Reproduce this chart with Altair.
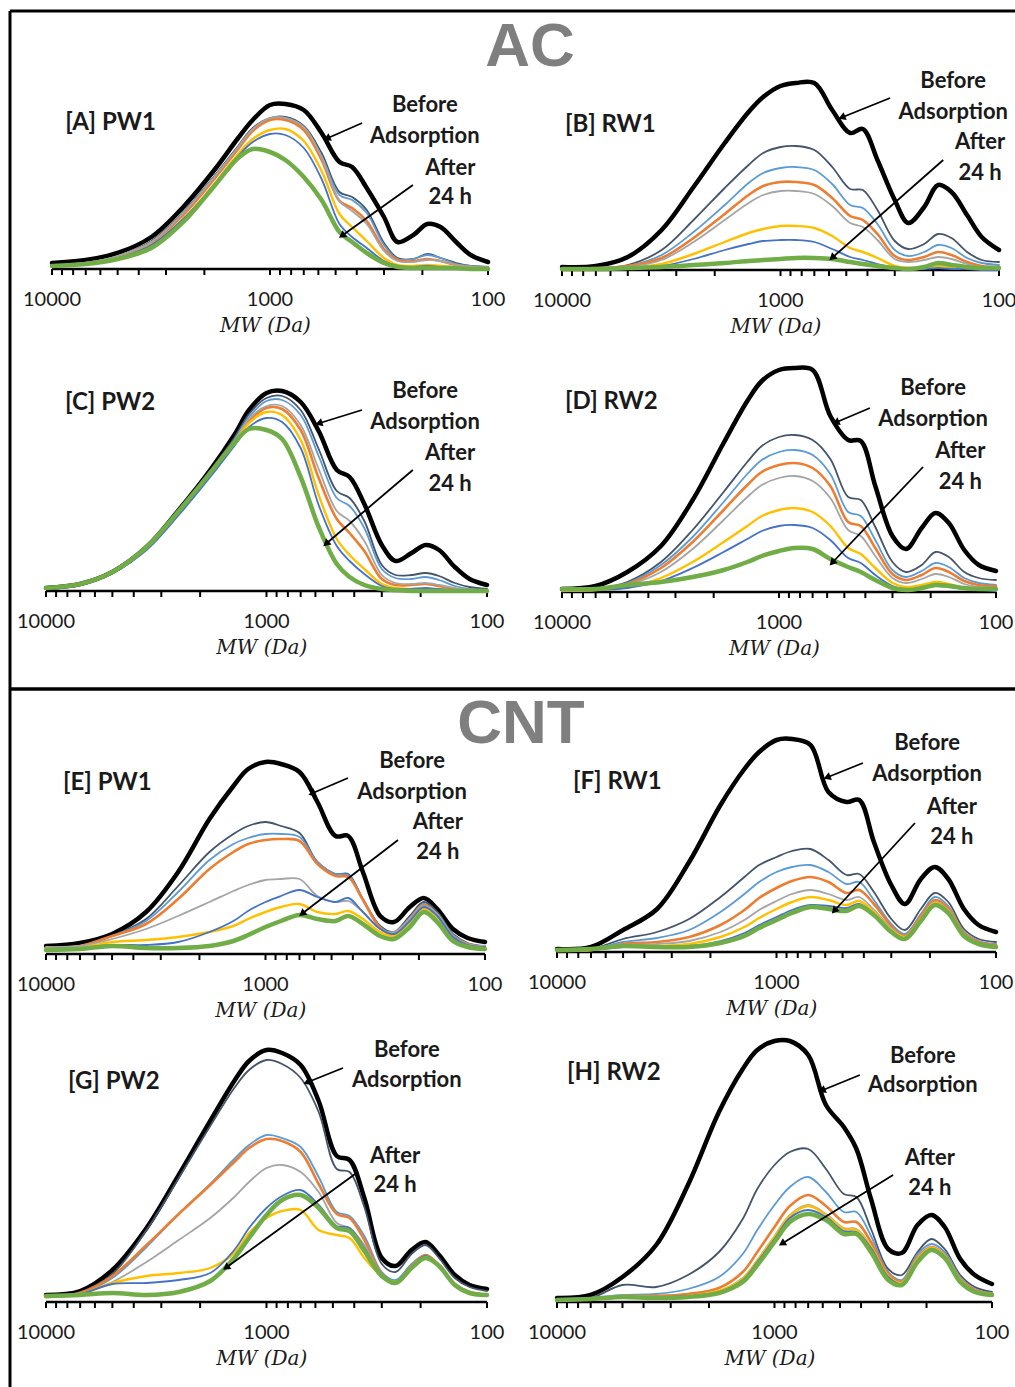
import math
import altair as alt
import pandas as pd

# ---------------- data ----------------
MW = [10000, 7000, 5000, 3500, 2500, 1800, 1400, 1200, 1000, 850, 700, 580,
      480, 420, 360, 300, 260, 220, 190, 165, 140, 120, 100]

SERIES = ["Before adsorption", "t1", "t2", "t3", "t4", "t5", "t6", "After 24 h"]
COLORS = ["#000000", "#44546A", "#5B9BD5", "#ED7D31", "#A5A5A5", "#FFC000", "#4472C4", "#70AD47"]
WIDTHS = [4.5, 1.8, 1.8, 2.6, 1.8, 2.4, 1.8, 4.5]

# [A] AC - PW1
A_before = [6, 9, 16, 32, 62, 99, 131, 149, 164, 165, 159, 136, 107, 102, 81, 52, 27, 34, 45, 42, 27, 14, 7]
A_t1 = [3, 6, 13, 28, 57, 93, 123, 141, 151, 152, 143, 116, 77, 72, 59, 26, 11, 10, 15, 11, 6, 3, 2]
A_t2 = [3, 6, 13, 27, 56, 92, 121, 139, 150, 150, 141, 113, 74, 69, 56, 24, 10, 10, 14, 11, 5, 3, 2]
A_t3 = [3, 6, 12, 26, 54, 90, 120, 138, 149, 149, 139, 109, 68, 61, 48, 20, 9, 8, 10, 8, 4, 2, 1]
A_t4 = [3, 6, 13, 27, 56, 92, 122, 140, 151, 151, 142, 112, 68, 58, 45, 18, 8, 7, 9, 8, 4, 2, 1]
A_t5 = [3, 5, 11, 24, 50, 85, 115, 130, 139, 140, 128, 98, 55, 42, 28, 11, 4, 3, 4, 3, 2, 1, 1]
A_t6 = [3, 5, 11, 24, 50, 84, 113, 127, 135, 134, 121, 90, 45, 32, 21, 8, 3, 2, 3, 2, 1, 1, 0]
A_t24 = [3, 5, 10, 21, 47, 83, 111, 120, 117, 109, 92, 69, 37, 27, 16, 6, 2, 1, 1, 1, 1, 0, 0]

# [B] AC - RW1
B_before = [3, 4, 13, 40, 83, 127, 158, 173, 184, 187, 187, 160, 137, 141, 110, 70, 47, 63, 85, 78, 55, 33, 20]
B_t1 = [2, 2, 5, 20, 50, 82, 105, 117, 123, 124, 120, 103, 81, 80, 60, 29, 21, 26, 36, 32, 18, 10, 8]
B_t2 = [1, 2, 4, 15, 38, 65, 87, 97, 102, 103, 100, 86, 65, 62, 46, 20, 14, 18, 25, 22, 12, 7, 5]
B_t3 = [1, 2, 4, 12, 32, 56, 75, 84, 88, 88, 85, 72, 54, 50, 36, 14, 10, 13, 18, 15, 8, 4, 3]
B_t4 = [1, 2, 3, 10, 28, 50, 67, 75, 79, 79, 76, 64, 47, 43, 30, 11, 8, 10, 13, 11, 6, 3, 2]
B_t5 = [0, 1, 2, 6, 16, 28, 37, 41, 44, 44, 42, 34, 22, 18, 12, 4, 2, 3, 4, 3, 2, 1, 1]
B_t6 = [0, 0, 1, 4, 11, 20, 26, 29, 30, 30, 28, 21, 13, 10, 6, 2, 1, 1, 2, 1, 1, 0, 0]
B_t24 = [1, 1, 2, 3, 5, 7, 9, 10, 11, 12, 12, 11, 8, 6, 4, 2, 1, 3, 7, 5, 3, 2, 2]

# [C] AC - PW2
C_before = [3, 7, 19, 44, 81, 121, 156, 181, 198, 200, 189, 160, 121, 114, 87, 46, 30, 38, 46, 41, 24, 12, 6]
C_t1 = [3, 7, 19, 44, 80, 120, 153, 177, 193, 195, 181, 142, 100, 93, 70, 26, 16, 16, 18, 15, 8, 4, 2]
C_t2 = [3, 7, 19, 44, 80, 119, 151, 174, 190, 191, 176, 135, 93, 85, 63, 22, 13, 12, 14, 11, 5, 2, 1]
C_t3 = [3, 7, 19, 43, 79, 118, 149, 170, 183, 182, 161, 113, 72, 58, 40, 12, 6, 6, 7, 5, 2, 1, 0]
C_t4 = [3, 7, 19, 43, 79, 118, 150, 172, 185, 185, 166, 122, 80, 70, 50, 16, 8, 7, 8, 6, 3, 1, 1]
C_t5 = [3, 7, 19, 43, 78, 117, 148, 168, 179, 176, 151, 96, 52, 36, 22, 7, 3, 2, 2, 1, 0, 0, 0]
C_t6 = [3, 6, 18, 41, 76, 114, 145, 164, 173, 169, 143, 86, 45, 30, 17, 5, 2, 2, 3, 2, 1, 0, 0]
C_t24 = [3, 7, 19, 44, 80, 118, 148, 162, 161, 152, 114, 64, 27, 14, 6, 2, 1, 0, 0, 0, 0, 0, 0]

# [D] AC - RW2
D_before = [3, 6, 20, 46, 92, 149, 191, 211, 222, 224, 222, 176, 152, 151, 106, 56, 43, 64, 79, 69, 42, 27, 21]
D_t1 = [2, 3, 10, 30, 62, 100, 130, 146, 155, 157, 152, 133, 95, 92, 65, 30, 20, 27, 40, 35, 20, 14, 12]
D_t2 = [2, 3, 9, 27, 55, 90, 118, 132, 140, 142, 137, 118, 80, 76, 52, 22, 15, 21, 29, 25, 14, 9, 7]
D_t3 = [1, 3, 8, 24, 50, 82, 107, 120, 127, 129, 124, 106, 70, 66, 44, 18, 12, 17, 24, 20, 11, 7, 6]
D_t4 = [1, 2, 7, 20, 43, 72, 95, 107, 114, 116, 111, 94, 62, 56, 36, 14, 9, 13, 18, 15, 8, 5, 4]
D_t5 = [2, 2, 5, 14, 30, 50, 66, 76, 82, 84, 80, 66, 44, 38, 24, 9, 5, 7, 10, 8, 4, 3, 2]
D_t6 = [2, 2, 4, 11, 24, 40, 53, 61, 66, 67, 64, 52, 34, 29, 17, 6, 3, 4, 6, 5, 3, 2, 1]
D_t24 = [3, 3, 7, 10, 15, 22, 30, 36, 41, 44, 43, 33, 25, 20, 12, 4, 2, 4, 7, 6, 4, 3, 3]

# [E] CNT - PW1
E_before = [8, 11, 20, 42, 82, 135, 168, 185, 192, 190, 182, 152, 118, 118, 82, 38, 32, 47, 56, 45, 25, 16, 12]
E_t1 = [6, 8, 18, 35, 68, 102, 120, 128, 132, 128, 121, 92, 80, 80, 55, 28, 22, 38, 52, 42, 20, 11, 8]
E_t2 = [6, 8, 18, 33, 62, 94, 110, 116, 120, 120, 117, 92, 80, 79, 55, 27, 21, 36, 50, 40, 19, 10, 7]
E_t3 = [6, 8, 18, 30, 55, 85, 102, 110, 114, 115, 113, 90, 78, 77, 54, 26, 20, 35, 49, 39, 18, 10, 7]
E_t4 = [7, 8, 15, 25, 38, 52, 63, 69, 74, 75, 75, 58, 52, 53, 42, 25, 22, 35, 48, 40, 18, 10, 8]
E_t5 = [5, 6, 12, 14, 17, 22, 28, 35, 42, 47, 50, 42, 40, 43, 35, 22, 18, 32, 45, 35, 15, 8, 6]
E_t6 = [5, 6, 9, 9, 12, 22, 33, 43, 52, 58, 64, 57, 52, 56, 42, 25, 20, 33, 47, 38, 17, 9, 7]
E_t24 = [4, 5, 8, 6, 6, 8, 13, 19, 27, 33, 39, 35, 33, 38, 30, 18, 15, 27, 42, 32, 13, 7, 5]

# [F] CNT - RW1
F_before = [3, 5, 22, 43, 90, 147, 183, 200, 212, 213, 207, 160, 150, 152, 110, 67, 48, 73, 85, 73, 43, 27, 20]
F_t1 = [2, 3, 13, 20, 33, 55, 75, 87, 95, 101, 103, 92, 77, 78, 60, 33, 22, 43, 59, 50, 23, 13, 10]
F_t2 = [2, 3, 10, 14, 22, 40, 58, 70, 80, 85, 87, 80, 68, 70, 52, 28, 18, 38, 55, 46, 20, 11, 8]
F_t3 = [2, 2, 8, 10, 15, 27, 42, 54, 64, 71, 75, 70, 59, 62, 48, 26, 16, 36, 52, 44, 19, 10, 7]
F_t4 = [1, 2, 7, 8, 11, 20, 32, 42, 51, 58, 62, 58, 52, 55, 42, 24, 15, 34, 50, 42, 18, 9, 6]
F_t5 = [1, 2, 6, 6, 8, 15, 25, 34, 43, 50, 55, 52, 47, 51, 40, 22, 15, 33, 49, 41, 17, 8, 5]
F_t6 = [1, 2, 5, 5, 6, 11, 19, 27, 35, 42, 47, 46, 44, 48, 38, 21, 14, 32, 48, 40, 17, 8, 5]
F_t24 = [2, 3, 6, 5, 5, 9, 16, 24, 32, 39, 45, 43, 41, 46, 37, 20, 13, 31, 47, 39, 16, 8, 5]

# [G] CNT - PW2
G_before = [7, 11, 32, 74, 127, 181, 221, 241, 252, 249, 237, 201, 146, 142, 104, 44, 36, 52, 60, 47, 27, 17, 13]
G_t1 = [6, 10, 28, 72, 124, 176, 214, 232, 242, 238, 224, 190, 133, 130, 95, 38, 30, 48, 57, 44, 24, 15, 11]
G_t2 = [5, 9, 24, 55, 88, 118, 143, 157, 167, 164, 155, 125, 90, 86, 66, 30, 22, 38, 47, 37, 18, 10, 7]
G_t3 = [5, 9, 26, 57, 88, 117, 140, 154, 163, 161, 150, 118, 88, 84, 62, 28, 20, 36, 47, 37, 18, 10, 7]
G_t4 = [5, 8, 20, 40, 62, 84, 105, 120, 134, 137, 130, 110, 79, 74, 57, 27, 20, 35, 46, 36, 18, 10, 7]
G_t5 = [5, 8, 19, 26, 29, 34, 49, 69, 84, 91, 92, 72, 67, 64, 44, 26, 20, 33, 44, 36, 17, 10, 7]
G_t6 = [5, 8, 18, 19, 22, 29, 52, 74, 94, 106, 112, 97, 76, 74, 54, 27, 20, 35, 46, 36, 18, 10, 7]
G_t24 = [6, 7, 9, 7, 10, 21, 44, 64, 87, 102, 107, 94, 74, 71, 51, 26, 19, 34, 44, 36, 17, 9, 7]

# [H] CNT - RW2
H_before = [4, 7, 25, 57, 117, 190, 233, 252, 261, 261, 247, 197, 175, 153, 103, 53, 49, 77, 87, 75, 43, 27, 18]
H_t1 = [3, 4, 17, 15, 27, 50, 83, 113, 137, 150, 153, 133, 108, 105, 73, 33, 27, 50, 63, 53, 27, 15, 10]
H_t2 = [3, 4, 7, 8, 13, 25, 48, 72, 97, 115, 125, 110, 90, 90, 66, 30, 22, 48, 58, 50, 25, 13, 9]
H_t3 = [2, 3, 6, 6, 8, 14, 30, 50, 75, 96, 107, 96, 80, 80, 60, 28, 20, 45, 55, 47, 23, 12, 8]
H_t4 = [2, 3, 6, 5, 6, 11, 24, 42, 66, 87, 97, 88, 74, 73, 56, 26, 19, 44, 54, 46, 22, 11, 8]
H_t5 = [2, 3, 6, 5, 6, 11, 23, 41, 65, 86, 96, 87, 73, 72, 55, 26, 19, 43, 54, 46, 22, 11, 8]
H_t6 = [2, 3, 5, 5, 6, 10, 22, 40, 63, 84, 92, 85, 71, 70, 54, 25, 18, 42, 53, 45, 21, 11, 7]
H_t24 = [2, 3, 5, 4, 5, 9, 20, 37, 60, 80, 88, 82, 68, 68, 50, 22, 17, 40, 52, 44, 20, 10, 7]

DATA = {
    "A": [A_before, A_t1, A_t2, A_t3, A_t4, A_t5, A_t6, A_t24],
    "B": [B_before, B_t1, B_t2, B_t3, B_t4, B_t5, B_t6, B_t24],
    "C": [C_before, C_t1, C_t2, C_t3, C_t4, C_t5, C_t6, C_t24],
    "D": [D_before, D_t1, D_t2, D_t3, D_t4, D_t5, D_t6, D_t24],
    "E": [E_before, E_t1, E_t2, E_t3, E_t4, E_t5, E_t6, E_t24],
    "F": [F_before, F_t1, F_t2, F_t3, F_t4, F_t5, F_t6, F_t24],
    "G": [G_before, G_t1, G_t2, G_t3, G_t4, G_t5, G_t6, G_t24],
    "H": [H_before, H_t1, H_t2, H_t3, H_t4, H_t5, H_t6, H_t24],
}

PANEL_LABELS = {"A": "[A] PW1", "B": "[B] RW1", "C": "[C] PW2", "D": "[D] RW2",
                "E": "[E] PW1", "F": "[F] RW1", "G": "[G] PW2", "H": "[H] RW2"}

MAJOR_TICKS = [10000, 1000, 100]
TICK_LABELS = ["10000", "1000", "100"]
MINOR_TICKS = [9000, 8000, 7000, 6000, 5000, 4000, 3000, 2000,
               900, 800, 700, 600, 500, 400, 300, 200]

# annotation anchors in data units (MW, signal)
ANNOT = {
    "A": dict(label=(8700, 146), before=(195, 164, 133), after=(149, 101, 72),
              arrow_b=(378, 146, 542, 131), arrow_a=(221, 84, 463, 34)),
    "B": dict(label=(9690, 145), before=(162, 189, 158), after=(122, 128, 97),
              arrow_b=(315, 172, 518, 153), arrow_a=(180, 110, 575, 13)),
    "C": dict(label=(8200, 188), before=(191, 200, 169), after=(147, 138, 107),
              arrow_b=(369, 181, 572, 168), arrow_a=(217, 121, 532, 48)),
    "D": dict(label=(9687, 190), before=(195, 204, 173), after=(146, 141, 110),
              arrow_b=(381, 184, 541, 170), arrow_a=(217, 125, 564, 30)),
    "E": dict(label=(8368, 171), before=(215, 193, 162), after=(164, 132, 102),
              arrow_b=(421, 176, 608, 161), arrow_a=(249, 114, 675, 41)),
    "F": dict(label=(8455, 170), before=(206, 209, 178), after=(159, 145, 115),
              arrow_b=(404, 189, 582, 175), arrow_a=(234, 129, 541, 42)),
    "G": dict(label=(7947, 220), before=(231, 252, 222), after=(261, 146, 117),
              arrow_b=(450, 234, 648, 220), arrow_a=(385, 130, 1510, 35)),
    "H": dict(label=(8995, 229), before=(208, 246, 217), after=(193, 144, 114),
              arrow_b=(405, 227, 598, 212), arrow_a=(285, 127, 914, 59)),
}

# panel placement: x pixel of 10000, x pixel of 100, baseline pixel
GEOM = {
    "A": (52, 488, 269), "B": (562, 999, 270),
    "C": (46, 487, 591), "D": (562, 996, 592),
    "E": (46, 485, 954), "F": (557, 996, 952),
    "G": (46, 487, 1302), "H": (557, 992, 1302),
}

FONT = "Lato"


def px(key, mw, s):
    x0, x1, base = GEOM[key]
    return x0 + (x1 - x0) * math.log10(10000 / mw) / 2, base - s


def make_panel(key):
    x0, x1, base = GEOM[key]
    xs = alt.Scale(type="log", domain=[10000, 100], range=[x0, x1], nice=False)
    ys = alt.Scale(type="linear", domain=[0, 300], range=[base, base - 300], nice=False, zero=False)

    def X(f):
        return alt.X(f, type="quantitative", scale=xs, axis=None)

    def Y(f):
        return alt.Y(f, type="quantitative", scale=ys, axis=None)

    layers = []
    # axis line and ticks
    layers.append(alt.Chart(pd.DataFrame({"mw": [10000], "mw2": [100], "s": [0]}))
                  .mark_rule(color="black", strokeWidth=2.5)
                  .encode(x=X("mw"), x2="mw2", y=Y("s")))
    ticks = pd.DataFrame({"mw": MAJOR_TICKS + MINOR_TICKS, "s": 0, "s2": -6})
    layers.append(alt.Chart(ticks).mark_rule(color="black", strokeWidth=2)
                  .encode(x=X("mw"), y=Y("s"), y2="s2"))
    labels = pd.DataFrame({"mw": MAJOR_TICKS, "t": TICK_LABELS, "s": -31})
    layers.append(alt.Chart(labels).mark_text(font=FONT, fontSize=20, color="#1a1a1a",
                                              align="center", baseline="middle")
                  .encode(x=X("mw"), y=Y("s"), text="t:N"))
    layers.append(alt.Chart(pd.DataFrame({"mw": [1050], "s": [-57], "t": ["MW (Da)"]}))
                  .mark_text(font="DejaVu Serif", fontStyle="italic", fontSize=20, color="#1a1a1a",
                             align="center", baseline="middle")
                  .encode(x=X("mw"), y=Y("s"), text="t:N"))

    # curves
    for name, color, w, vals in zip(SERIES, COLORS, WIDTHS, DATA[key]):
        df = pd.DataFrame({"mw": MW, "signal": vals, "series": name})
        layers.append(alt.Chart(df).mark_line(interpolate="catmull-rom", color=color,
                                              strokeWidth=w, strokeJoin="round", strokeCap="round")
                      .encode(x=X("mw"), y=Y("signal")))

    a = ANNOT[key]
    # panel label
    lm, ls = a["label"]
    layers.append(alt.Chart(pd.DataFrame({"mw": [lm], "s": [ls], "t": [PANEL_LABELS[key]]}))
                  .mark_text(font=FONT, fontWeight="bold", fontSize=24, align="left",
                             baseline="middle", color="#1a1a1a")
                  .encode(x=X("mw"), y=Y("s"), text="t:N"))
    bm, b1, b2 = a["before"]
    am, a1, a2 = a["after"]
    txt = pd.DataFrame({"mw": [bm, bm, am, am], "s": [b1, b2, a1, a2],
                        "t": ["Before", "Adsorption", "After", "24 h"]})
    layers.append(alt.Chart(txt).mark_text(font=FONT, fontWeight="bold", fontSize=22,
                                           align="center", baseline="middle", color="#1a1a1a")
                  .encode(x=X("mw"), y=Y("s"), text="t:N"))
    # arrows
    for k in ("arrow_b", "arrow_a"):
        m1, s1, m2, s2 = a[k]
        layers.append(alt.Chart(pd.DataFrame({"mw": [m1], "s": [s1], "mw2": [m2], "s2": [s2]}))
                      .mark_rule(color="black", strokeWidth=1.8)
                      .encode(x=X("mw"), y=Y("s"), x2="mw2", y2="s2"))
        (p1x, p1y), (p2x, p2y) = px(key, m1, s1), px(key, m2, s2)
        ang = math.degrees(math.atan2(p2x - p1x, -(p2y - p1y))) % 360
        layers.append(alt.Chart(pd.DataFrame({"mw": [m2], "s": [s2]}))
                      .mark_point(shape="triangle", filled=True, size=70, color="black",
                                  opacity=1, angle=ang)
                      .encode(x=X("mw"), y=Y("s")))
    return alt.layer(*layers)


panels = [make_panel(k) for k in "ABCDEFGH"]

dummy = pd.DataFrame({"d": [0]})
frame_left = alt.Chart(dummy).mark_rule(color="black", strokeWidth=3).encode(
    x=alt.value(10), y=alt.value(11), y2=alt.value(1387))
frame_top = alt.Chart(dummy).mark_rule(color="black", strokeWidth=3).encode(
    x=alt.value(10), x2=alt.value(1015), y=alt.value(11))
separator = alt.Chart(dummy).mark_rule(color="black", strokeWidth=3.5).encode(
    x=alt.value(10), x2=alt.value(1015), y=alt.value(689))
title_ac = alt.Chart(dummy).mark_text(font="Liberation Sans", fontWeight="bold",
                                      fontSize=62, color="#7F7F7F", align="center",
                                      baseline="middle").encode(
    x=alt.value(530), y=alt.value(47), text=alt.value("AC"))
title_cnt = alt.Chart(dummy).mark_text(font="Liberation Sans", fontWeight="bold",
                                       fontSize=62, color="#7F7F7F", align="center",
                                       baseline="middle").encode(
    x=alt.value(521), y=alt.value(724), text=alt.value("CNT"))

chart = alt.layer(*panels, frame_left, frame_top, separator, title_ac, title_cnt).resolve_scale(
    x="independent", y="independent"
).properties(
    width=1015, height=1387, padding=0, background="white",
    autosize=alt.AutoSizeParams(type="none")
).configure_view(stroke=None)

chart.save("out.html", embed_options={"renderer": "svg", "actions": False})
